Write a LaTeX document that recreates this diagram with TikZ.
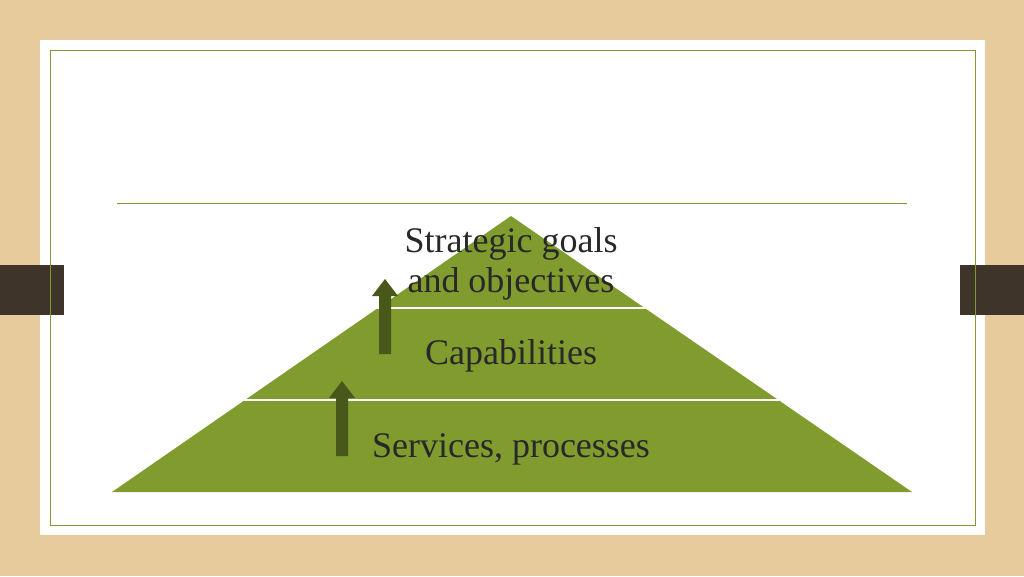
\documentclass[tikz,border=0pt]{standalone}
\usepackage{fontspec}
\setmainfont{Liberation Serif}
\usetikzlibrary{positioning}
\definecolor{wood}{RGB}{232,203,156}
\definecolor{leaf}{RGB}{128,155,46}
\definecolor{darkleaf}{RGB}{72,88,26}
\definecolor{tab}{RGB}{62,52,42}
\definecolor{ink}{RGB}{40,40,40}
\begin{document}
\begin{tikzpicture}[x=1pt,y=-1pt]
	\tikzstyle{layer} = [font=\fontsize{36}{40}\selectfont, align=center, text=ink]
	\tikzstyle{uparrow} = [fill=darkleaf]
	\fill[wood] (0,0) rectangle (1024,576);
	\useasboundingbox (0,0) rectangle (1024,576);
	\fill[white] (40,40) rectangle (985,535);
	\fill[tab] (0,265) rectangle (64,315);
	\fill[tab] (960,265) rectangle (1024,315);
	\draw[leaf, line width=1pt] (50,50) rectangle (975,525);
	\draw[leaf, line width=1pt] (117,203) -- (907,203);
	% pyramid
	\fill[leaf] (511,216) -- (912,492) -- (112,492) -- cycle;
	\draw[white, line width=1.5pt] (375,308) -- (646,308);
	\draw[white, line width=1.5pt] (244,400) -- (779,400);
	% arrows
	\fill[uparrow] (379,354) -- (379,296) -- (372,296) -- (385,279) -- (398,296) -- (391,296) -- (391,354) -- cycle;
	\fill[uparrow] (336,456) -- (336,398) -- (329,398) -- (342,381) -- (355,398) -- (348,398) -- (348,456) -- cycle;
	% labels
	\node[layer] (goals) at (511,264) {Strategic goals\\and objectives};
	\node[layer] (caps) at (511,356) {Capabilities};
	\node[layer] (services) at (511,449) {Services, processes};
\end{tikzpicture}
\end{document}
